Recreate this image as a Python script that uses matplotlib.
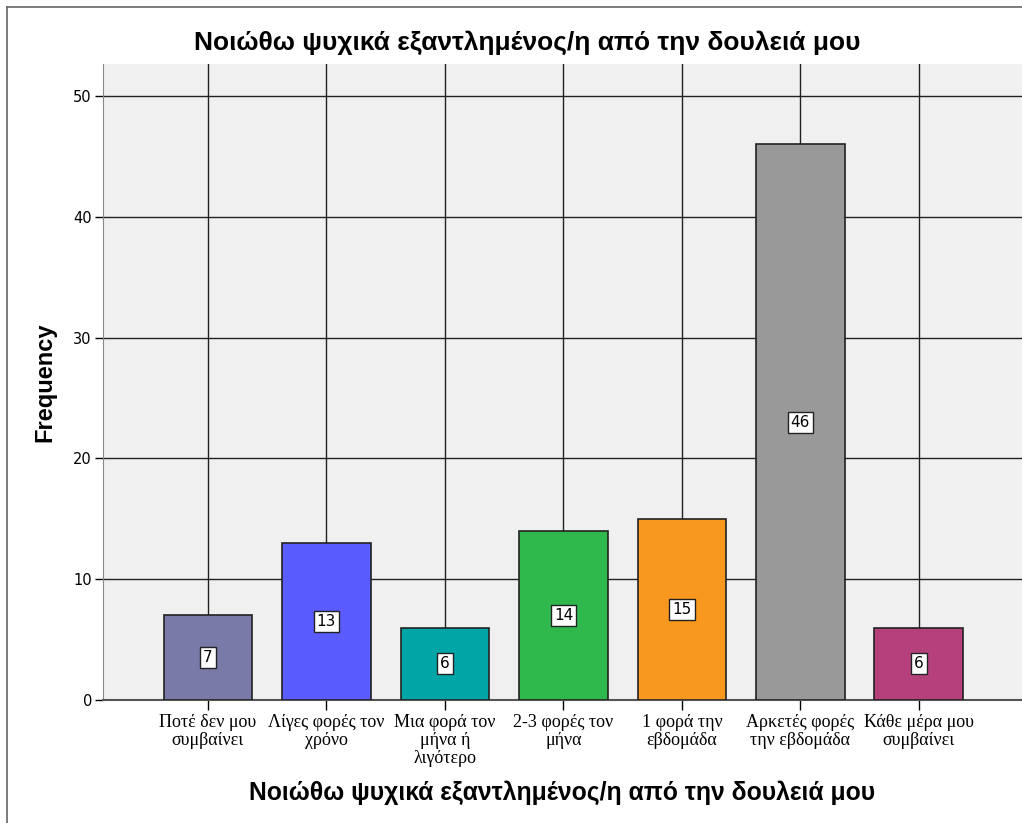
import matplotlib.pyplot as plt
from matplotlib.lines import Line2D

# data
categories = [
    "Ποτέ δεν μου\nσυμβαίνει",
    "Λίγες φορές τον\nχρόνο",
    "Μια φορά τον\nμήνα ή\nλιγότερο",
    "2-3 φορές τον\nμήνα",
    "1 φορά την\nεβδομάδα",
    "Αρκετές φορές\nτην εβδομάδα",
    "Κάθε μέρα μου\nσυμβαίνει",
]
counts = [7, 13, 6, 14, 15, 46, 6]
colors = ["#7a7aa8", "#5b5cff", "#00a6a6", "#2fb84b", "#f8981e", "#999999", "#b5407c"]
yticks = [0, 10, 20, 30, 40, 50]
title = "Νοιώθω ψυχικά εξαντλημένος/η από την δουλειά μου"

W, H = 1022, 823
fig = plt.figure(figsize=(W / 100, H / 100), dpi=100)
ax = fig.add_axes([103 / W, (H - 700) / H, (W - 103) / W, (700 - 64) / H])
ax.set_facecolor("#f0f0f0")

x = range(len(counts))
bars = ax.bar(x, counts, width=0.75, color=colors, edgecolor="#222222", linewidth=1.2, zorder=3)

# value labels in white boxes
for xi, c in zip(x, counts):
    ax.text(xi, c / 2, str(c), ha="center", va="center", fontsize=11, zorder=4,
            family="DejaVu Sans",
            bbox=dict(boxstyle="square,pad=0.2", fc="white", ec="#222222", lw=1))

ax.set_xlim(-0.886, 6.87)
ax.set_ylim(0, 52.65)
ax.set_yticks(yticks)
ax.set_xticks(list(x))
ax.set_xticklabels(categories, family="Liberation Serif", fontsize=13, linespacing=1.08)
ax.tick_params(axis="y", labelsize=10.5, length=6, width=1, direction="out", pad=2)
ax.tick_params(axis="x", length=7, width=1, direction="out", pad=3)

ax.grid(True, color="#222222", linewidth=1, zorder=1)
ax.set_axisbelow(True)
for s in ["top", "right"]:
    ax.spines[s].set_visible(False)
ax.spines["left"].set_color("#888888")
ax.spines["bottom"].set_color("#555555")
ax.spines["bottom"].set_linewidth(1.5)

ax.set_ylabel("Frequency", fontsize=17, fontweight="bold", family="Liberation Sans", labelpad=12)
ax.set_xlabel(title, fontsize=17.8, family="Liberation Sans", fontweight="bold", labelpad=10)
fig.text(527 / W, 1 - 43 / H, title, ha="center", va="center",
         fontsize=19, family="Liberation Sans", fontweight="bold")

# outer frame
fig.add_artist(Line2D([7 / W, 7 / W], [0, 1 - 7 / H], color="#666666", lw=1.2))
fig.add_artist(Line2D([7 / W, 1], [1 - 7 / H, 1 - 7 / H], color="#666666", lw=1.2))

fig.savefig("out.png", dpi=100)
